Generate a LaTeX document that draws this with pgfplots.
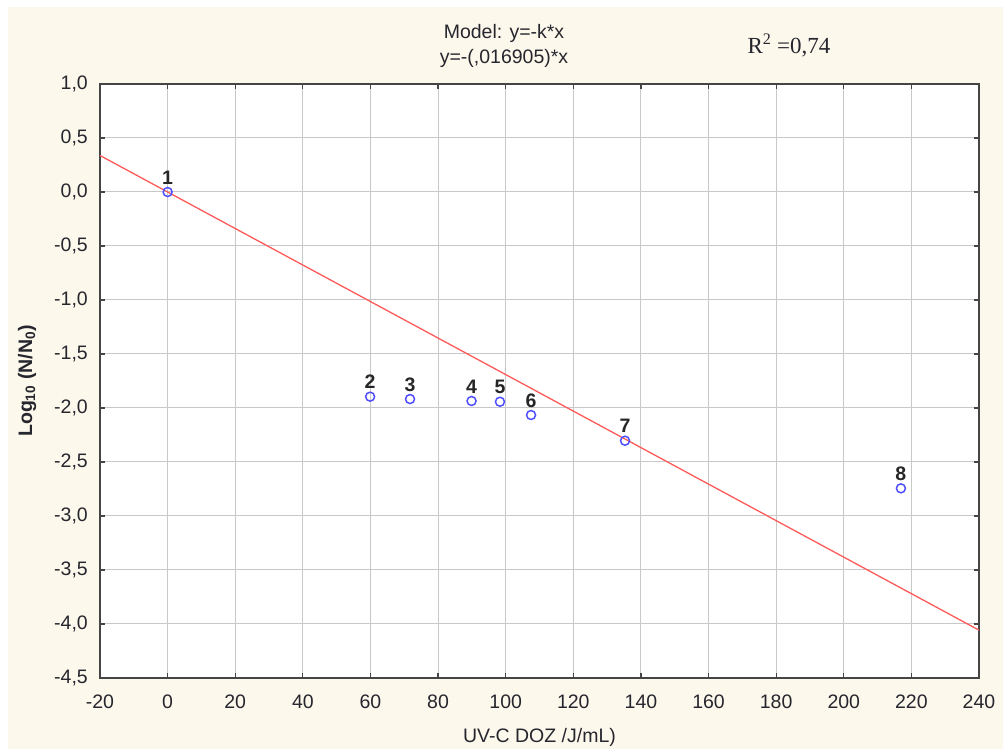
\documentclass[border=0pt]{standalone}
\usepackage{pgfplots}
\pgfplotsset{compat=1.18}
\usepackage{fontspec}
\setmainfont{Liberation Sans}
\newfontfamily\seriffont{Liberation Serif}

\definecolor{cream}{HTML}{FDF8EC}
\definecolor{gridgray}{HTML}{C8C8C8}
\definecolor{axisgray}{HTML}{454545}
\definecolor{labelgray}{HTML}{26262E}
\definecolor{markblue}{HTML}{5050FF}
\definecolor{linered}{HTML}{FF5A5A}

\newcommand{\chartfont}{\fontsize{19.5}{22}\selectfont}

\begin{document}
\begin{tikzpicture}[x=1pt,y=1pt]
\useasboundingbox (0,0) rectangle (1003,749);
\fill[cream] (8,0) rectangle (1003,742);

% fit line and titles
\node[font=\chartfont, text=labelgray] at (504,716) {Model: y=-k*x};
\node[font=\chartfont, text=labelgray] at (504,691) {y=-(,016905)*x};
\node[font=\seriffont\fontsize{23}{26}\selectfont, text=labelgray] at (789,704) {R\textsuperscript{2} =0,74};

\begin{axis}[
    at={(100pt,71pt)}, anchor=south west,
    scale only axis,
    width=879pt, height=594pt,
    xmin=-20, xmax=240,
    ymin=-4.5, ymax=1,
    xtick={-20,0,...,240},
    ytick={-4.5,-4,...,1},
    grid=major,
    major grid style={draw=gridgray, line width=1pt},
    axis line style={draw=axisgray, line width=1.6pt},
    tick style={draw=axisgray, line width=1.3pt},
    major tick length=5pt,
    tick align=inside,
    axis background/.style={fill=white},
    /pgf/number format/assume math mode=true,
    ticklabel style={font=\chartfont, text=labelgray, inner sep=0pt},
    yticklabel style={xshift=-12pt, /pgf/number format/.cd, fixed, fixed zerofill, precision=1, use comma},
    xticklabel style={yshift=-17pt, /pgf/number format/.cd, fixed, precision=0},
    xlabel={UV-C DOZ /J/mL)},
    ylabel={\bfseries Log\textsubscript{10} (N/N\textsubscript{0})},
    label style={font=\chartfont, text=labelgray},
    xlabel style={at={(axis description cs:0.5,-0.0993)}, anchor=center},
    ylabel style={at={(axis description cs:-0.083,0.5)}, anchor=center, rotate=0},
]

\addplot[draw=linered, line width=1.3pt] coordinates {(-20,0.3381) (240,-4.0572)};

\addplot[
    only marks,
    mark=o,
    mark size=4.5pt,
    mark options={draw=markblue, line width=1.5pt},
    nodes near coords,
    point meta=explicit symbolic,
    nodes near coords style={font=\bfseries\chartfont, text=black!85, anchor=south, inner sep=0pt, yshift=7pt},
] table[meta=lab] {
x      y      lab
0      0      1
59.9   -1.895 2
71.7   -1.917 3
89.9   -1.935 4
98.3   -1.942 5
107.5  -2.065 6
135.3  -2.303 7
216.9  -2.744 8
};
\end{axis}
\end{tikzpicture}
\end{document}
